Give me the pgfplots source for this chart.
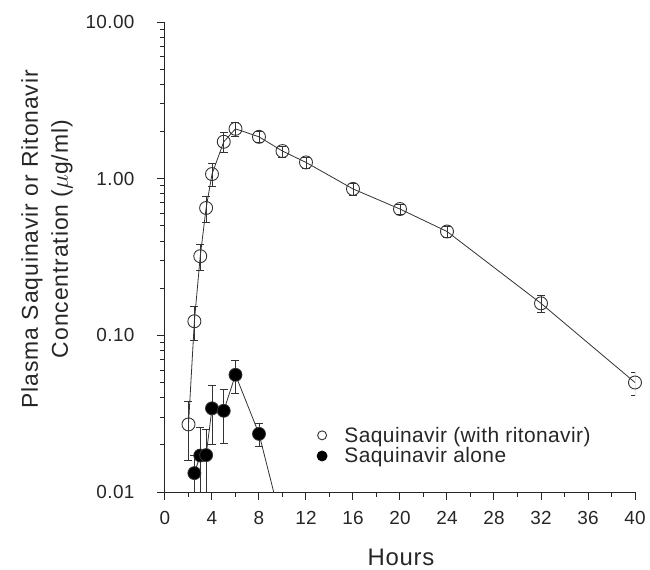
\documentclass[border=0pt]{standalone}
\usepackage{pgfplots}
\pgfplotsset{compat=1.18}
\usepackage{fontspec}
\setmainfont{Liberation Sans}
\usetikzlibrary{calc}

% saquinavir with ritonavir: hours, ug/ml, sd
\pgfplotstableread{
t    c      e
2    0.027  0.011
2.5  0.123  0.03
3    0.32   0.06
3.5  0.65   0.12
4    1.07   0.18
5    1.72   0.25
6    2.08   0.2
8    1.85   0.15
10   1.50   0.12
12   1.27   0.1
16   0.86   0.07
20   0.64   0.05
24   0.46   0.04
32   0.16   0.02
40   0.050  0.0085
}\withrtv
% saquinavir alone
\pgfplotstableread{
t    c       e
2.5  0.0132  0.004
3    0.0171  0.009
3.5  0.0172  0.008
4    0.0342  0.014
5    0.033   0.0125
6    0.056   0.013
8    0.0235  0.004
10   0.006   0
}\alone

\begin{document}
\begin{tikzpicture}
\begin{axis}[
  scale only axis, width=470bp, height=470bp,
  ymode=log, xmin=0, xmax=40, ymin=0.01, ymax=10,
  axis lines=left, axis line style={-, line width=1bp, black!85},
  tick align=outside,
  major tick length=8bp, minor tick length=5bp,
  every tick/.style={black!85, line width=1bp},
  xtick={0,4,...,40}, minor x tick num=1,
  ytick={0.01,0.1,1,10}, yticklabels={0.01,0.10,1.00,10.00},
  /pgf/number format/assume math mode=true,
  tick label style={font=\fontsize{19}{20}\selectfont\addfontfeatures{LetterSpace=2}, black!85},
  xticklabel style={yshift=-8bp},
  yticklabel style={xshift=-19bp},
  xlabel={Hours},
  xlabel style={at={(axis description cs:0.502,-0.14)}, anchor=center,
    font=\fontsize{24}{26}\selectfont\addfontfeatures{LetterSpace=3}, black!85},
  ylabel={Plasma Saquinavir or Ritonavir\\Concentration ($\mu$g/ml)},
  ylabel style={at={(axis description cs:-0.251,0.538)}, anchor=center,
    align=center, font=\fontsize{23}{30}\selectfont\addfontfeatures{LetterSpace=4}, black!85},
  legend style={draw=none, fill=none, at={(0.316,0.05)}, anchor=south west,
    font=\fontsize{21}{22}\selectfont\addfontfeatures{LetterSpace=2}, text=black!85, row sep=0bp},
  legend cell align=left,
]
\addplot[black!80, line width=0.8bp, mark=o, mark size=6.5bp,
  mark options={line width=0.9bp, fill=white},
  legend image code/.code={\draw[black!80, line width=0.9bp] (0bp,0bp) circle (4.5bp); \path (20bp,0bp);},
  error bars/.cd, y dir=both, y explicit,
  error bar style={line width=0.8bp}, error mark options={rotate=90, mark size=4bp}]
  table[x=t, y=c, y error=e] {\withrtv};
\addlegendentry{Saquinavir (with ritonavir)}
\addplot[black!80, line width=0.8bp, mark=*, mark size=6.5bp,
  mark options={fill=black},
  legend image code/.code={\fill[black] (0bp,0bp) circle (5bp); \path (20bp,0bp);},
  error bars/.cd, y dir=both, y explicit,
  error bar style={line width=0.8bp}, error mark options={rotate=90, mark size=4bp}]
  table[x=t, y=c, y error=e] {\alone};
\addlegendentry{Saquinavir alone}
\end{axis}
\path ($(current axis.south west)+(-165bp,-76bp)$) rectangle ($(current axis.north east)+(15bp,22bp)$);
\end{tikzpicture}
\end{document}
